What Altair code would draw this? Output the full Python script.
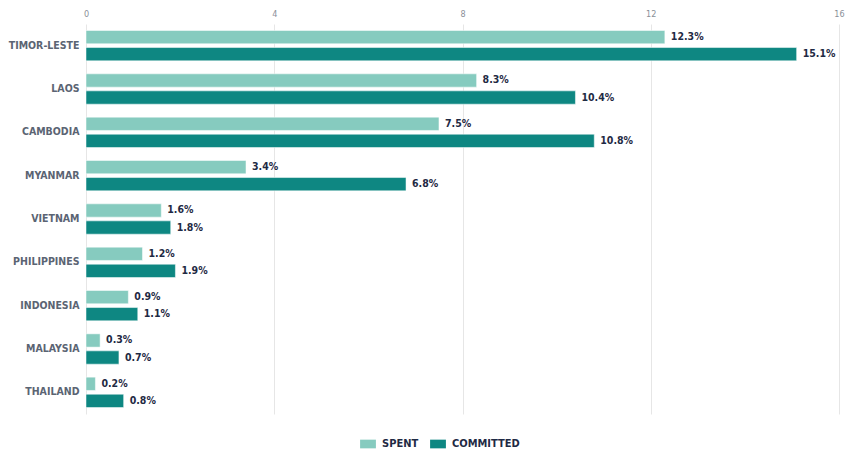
import altair as alt
import pandas as pd

countries = ["TIMOR-LESTE", "LAOS", "CAMBODIA", "MYANMAR", "VIETNAM",
             "PHILIPPINES", "INDONESIA", "MALAYSIA", "THAILAND"]
spent = [12.3, 8.3, 7.5, 3.4, 1.6, 1.2, 0.9, 0.3, 0.2]
committed = [15.1, 10.4, 10.8, 6.8, 1.8, 1.9, 1.1, 0.7, 0.8]
series = ["SPENT", "COMMITTED"]
colors = ["#86cbbf", "#0e8782"]
x_ticks = [0, 4, 8, 12, 16]

rows = []
for c, s, m in zip(countries, spent, committed):
    rows.append({"country": c, "series": "SPENT", "value": s, "label": f"{s:.1f}%"})
    rows.append({"country": c, "series": "COMMITTED", "value": m, "label": f"{m:.1f}%"})
df = pd.DataFrame(rows)

FONT = "'DejaVu Sans Condensed', 'Roboto', sans-serif"

y = alt.Y("country:N", sort=countries, title=None,
          scale=alt.Scale(paddingInner=0.3, paddingOuter=0.15),
          axis=alt.Axis(domain=False, ticks=False, labelPadding=7,
                        labelFont=FONT, labelFontWeight="bold", labelFontSize=10.5,
                        labelColor="#5b6473"))
yoff = alt.YOffset("series:N", sort=series, scale=alt.Scale(paddingInner=0.22))
x = alt.X("value:Q", title=None,
          scale=alt.Scale(domain=[0, 16], nice=False),
          axis=alt.Axis(orient="top", values=x_ticks, domain=False, ticks=False,
                        grid=True, gridColor="#e6e6e6", labelPadding=6,
                        labelFont=FONT, labelFontSize=9, labelColor="#8a8f98",
                        labelFlush=False))

base = alt.Chart(df).encode(y=y, yOffset=yoff)

bars = base.mark_bar(stroke="#ffffff", strokeWidth=0.5).encode(
    x=x,
    color=alt.Color("series:N", sort=series,
                    scale=alt.Scale(domain=series, range=colors),
                    legend=alt.Legend(title=None, orient="none", direction="horizontal",
                                      legendX=274, legendY=412,
                                      symbolType="M-1,-0.55L1,-0.55L1,0.55L-1,0.55Z",
                                      symbolSize=250, symbolStrokeWidth=0,
                                      labelFont=FONT, labelFontWeight="bold",
                                      labelFontSize=11, labelColor="#1f2a44",
                                      columnPadding=11, labelOffset=6)),
)

labels = base.mark_text(align="left", baseline="middle", dx=6, font=FONT,
                        fontWeight="bold", fontSize=10.5, color="#1f2a44").encode(
    x=alt.X("value:Q"),
    text="label:N",
)

chart = alt.layer(bars, labels).properties(
    width=753, height=390,
    autosize=alt.AutoSizeParams(type="none"),
    padding={"left": 78, "top": 16, "right": 18, "bottom": 35},
).configure_view(stroke=None)

chart.save("out.html", embed_options={"renderer": "svg", "actions": False})
